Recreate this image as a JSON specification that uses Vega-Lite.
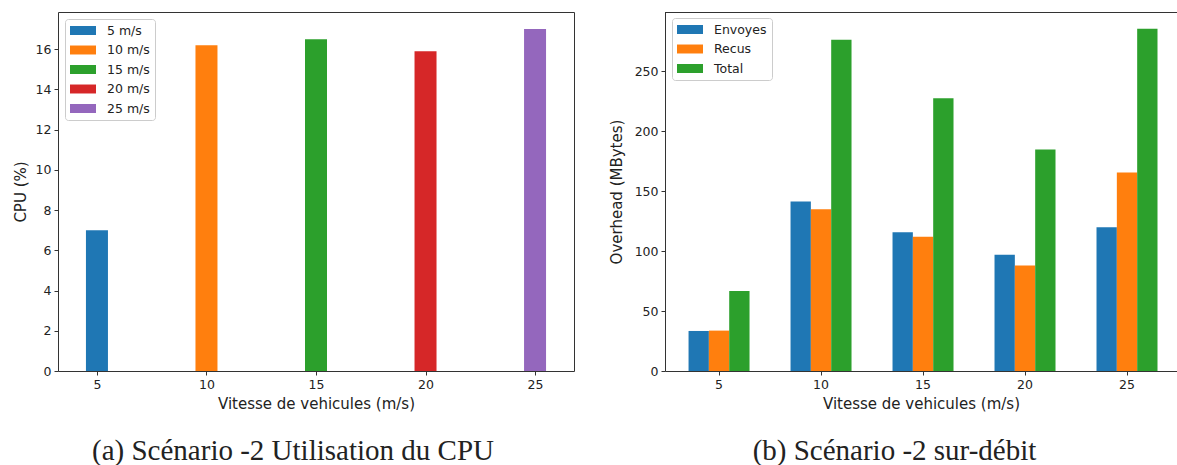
{
  "$schema": "https://vega.github.io/schema/vega-lite/v6.json",
  "padding": {"left": 12, "top": 11, "right": 0, "bottom": 0},
  "background": "white",
  "config": {
    "font": "DejaVu Sans",
    "axis": {
      "labelFont": "DejaVu Sans", "labelFontSize": 12.5, "labelColor": "#222",
      "titleFont": "DejaVu Sans", "titleFontSize": 15, "titleFontWeight": "normal", "titleColor": "#222",
      "tickColor": "#333", "tickSize": 4, "domain": false, "grid": false, "labelPadding": 3
    },
    "axisY": {"titlePadding": 7},
    "axisX": {"titlePadding": 6, "labelAngle": 0},
    "legend": {
      "orient": "none", "legendX": 7, "legendY": 7, "padding": 5, "strokeColor": "#cccccc", "fillColor": "white",
      "cornerRadius": 3, "labelFont": "DejaVu Sans", "labelFontSize": 12.5, "labelColor": "#222",
      "symbolType": "M-1,-0.69L3,-0.69L3,0.69L-1,0.69Z", "symbolSize": 169, "symbolStrokeWidth": 0,
      "symbolOpacity": 1, "labelOffset": 24, "rowPadding": 6.5
    },
    "title": {"font": "Liberation Serif", "fontSize": 29, "fontWeight": "normal", "color": "#222", "orient": "bottom", "anchor": "middle", "offset": 25},
    "concat": {"spacing": 34}
  },
  "hconcat": [
    {
      "width": 516, "height": 359,
      "view": {"stroke": "#333", "strokeWidth": 1},
      "title": {"text": "(a) Scénario -2 Utilisation du CPU", "dx": -23},
      "data": {"values": [
        {"vitesse": 5, "cpu": 7.0, "serie": "5 m/s"},
        {"vitesse": 10, "cpu": 16.2, "serie": "10 m/s"},
        {"vitesse": 15, "cpu": 16.5, "serie": "15 m/s"},
        {"vitesse": 20, "cpu": 15.9, "serie": "20 m/s"},
        {"vitesse": 25, "cpu": 17.0, "serie": "25 m/s"}
      ]},
      "mark": {"type": "bar", "width": 22},
      "encoding": {
        "x": {"field": "vitesse", "type": "quantitative", "scale": {"domain": [3.45, 26.55], "nice": false, "zero": false},
              "axis": {"values": [5, 10, 15, 20, 25], "title": "Vitesse de vehicules (m/s)"}},
        "y": {"field": "cpu", "type": "quantitative", "scale": {"domain": [0, 17.85], "nice": false},
              "axis": {"values": [0, 2, 4, 6, 8, 10, 12, 14, 16], "title": "CPU (%)"}},
        "color": {"field": "serie", "type": "nominal", "sort": ["5 m/s", "10 m/s", "15 m/s", "20 m/s", "25 m/s"],
                  "scale": {"range": ["#1f77b4", "#ff7f0e", "#2ca02c", "#d62728", "#9467bd"]},
                  "legend": {"title": null}}
      }
    },
    {
      "width": 512, "height": 359,
      "view": {"stroke": null},
      "title": {"text": "(b) Scénario -2 sur-débit", "dx": -26.5},
      "data": {"values": [
        {"vitesse": 5, "serie": "Envoyes", "mo": 33.4},
        {"vitesse": 5, "serie": "Recus", "mo": 33.7},
        {"vitesse": 5, "serie": "Total", "mo": 66.8},
        {"vitesse": 10, "serie": "Envoyes", "mo": 141.4},
        {"vitesse": 10, "serie": "Recus", "mo": 135.0},
        {"vitesse": 10, "serie": "Total", "mo": 276.3},
        {"vitesse": 15, "serie": "Envoyes", "mo": 115.8},
        {"vitesse": 15, "serie": "Recus", "mo": 111.9},
        {"vitesse": 15, "serie": "Total", "mo": 227.5},
        {"vitesse": 20, "serie": "Envoyes", "mo": 96.9},
        {"vitesse": 20, "serie": "Recus", "mo": 88.0},
        {"vitesse": 20, "serie": "Total", "mo": 184.7},
        {"vitesse": 25, "serie": "Envoyes", "mo": 120.0},
        {"vitesse": 25, "serie": "Recus", "mo": 165.6},
        {"vitesse": 25, "serie": "Total", "mo": 285.5}
      ]},
      "layer": [
        {
          "mark": {"type": "bar"},
          "encoding": {
            "x": {"field": "vitesse", "type": "ordinal", "sort": [5, 10, 15, 20, 25],
                  "scale": {"paddingInner": 0.402, "paddingOuter": 0.211, "align": 0.547},
                  "axis": {"title": "Vitesse de vehicules (m/s)", "domain": true, "domainColor": "#333", "domainWidth": 1}},
            "xOffset": {"field": "serie", "type": "nominal", "sort": ["Envoyes", "Recus", "Total"], "scale": {"paddingInner": 0, "paddingOuter": 0}},
            "y": {"field": "mo", "type": "quantitative", "scale": {"domain": [0, 299.5], "nice": false},
                  "axis": {"values": [0, 50, 100, 150, 200, 250], "title": "Overhead (MBytes)", "titlePadding": 10, "domain": true, "domainColor": "#333", "domainWidth": 1}},
            "color": {"field": "serie", "type": "nominal", "sort": ["Envoyes", "Recus", "Total"],
                      "scale": {"range": ["#1f77b4", "#ff7f0e", "#2ca02c"]},
                      "legend": {"title": null, "legendY": 6}}
          }
        },
        {
          "mark": {"type": "rule", "color": "#333", "strokeWidth": 1, "yOffset": 0.5},
          "encoding": {"y": {"datum": 299.5}}
        }
      ]
    }
  ],
  "resolve": {"scale": {"color": "independent"}}
}
